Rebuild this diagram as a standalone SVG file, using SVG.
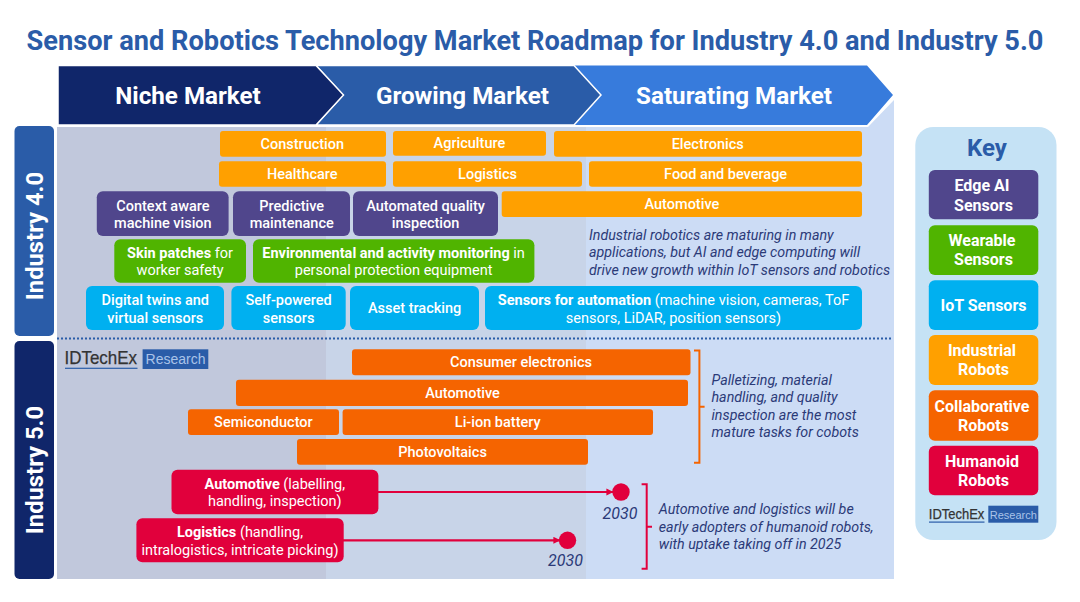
<svg xmlns="http://www.w3.org/2000/svg" width="1080" height="602" viewBox="0 0 1080 602">
<style>
text{font-family:Roboto,"Liberation Sans",sans-serif}
.t{font-size:14.5px;font-weight:500;fill:#fff;text-anchor:middle}
.t tspan.b{font-weight:700}
.t tspan.r{font-weight:400}
.h{font-size:24.2px;font-weight:700;fill:#fff;text-anchor:middle}
.v{font-size:23.8px;font-weight:700;fill:#fff;text-anchor:middle}
.k{font-size:16px;font-weight:700;fill:#fff;text-anchor:middle}
.n{font-size:14.25px;font-style:italic;fill:#2b3a78}
.o{fill:#ffa000}.p{fill:#50468c}.g{fill:#50b400}.c{fill:#00b0f0}.d{fill:#f56400}.m{fill:#e1003c}
.logo{font-family:"Liberation Sans",sans-serif;fill:#333;stroke:#333;stroke-width:.25}
.res{font-family:"Liberation Sans",sans-serif;fill:#a9c3e8;text-anchor:middle}
.ln{fill:none;stroke-width:2}
</style>
<defs><marker id="ah" markerWidth="3.2" markerHeight="3.2" refX="3" refY="1.6" orient="auto"><path d="M0 0L3.2 1.600L0 3.200Z" fill="#e1003c"/></marker></defs>
<rect width="1080" height="602" fill="#fff"/>
<text id="title" x="535" y="50" text-anchor="middle" font-size="27.2" font-weight="700" fill="#2a5ca8">Sensor and Robotics Technology Market Roadmap for Industry 4.0 and Industry 5.0</text>
<g id="background">
<path d="M57 127H868L894 100V579H57Z" fill="#ccdcf5"/>
<rect x="57" y="127" width="269" height="452" fill="#c1c8dc"/>
<rect x="326" y="127" width="260" height="452" fill="#c8d4e8"/>
</g>
<g id="stage-saturating"><path d="M574 65.500H867L893 95L867 125H574L601 95Z" fill="#377bdc"/><text class="h" x="734" y="103.500">Saturating Market</text></g>
<g id="stage-growing"><path d="M316 65.500H574L601 95L574 125H316L343 95Z" fill="#2a5ca8" stroke="#fff" stroke-width="1.500"/><text class="h" x="462.500" y="103.500">Growing Market</text></g>
<g id="stage-niche"><path d="M58 65.500H316L343.500 95L316 125H58Z" fill="#10266a" stroke="#fff" stroke-width="1.500"/><text class="h" x="188" y="103.500">Niche Market</text></g>
<g id="industry-40"><rect x="14.500" y="126" width="39.500" height="210" rx="5" fill="#2a5ca8"/><text class="v" transform="translate(42.500 236) rotate(-90)">Industry 4.0</text></g>
<g id="industry-50"><rect x="14.500" y="341" width="39.500" height="238" rx="5" fill="#10266a"/><text class="v" transform="translate(42.500 470) rotate(-90)">Industry 5.0</text></g>
<line id="divider" x1="57" y1="338.500" x2="893" y2="338.500" stroke="#2a5ca8" stroke-width="2" stroke-dasharray="2 2"/>

<g id="construction"><rect class="o" x="220" y="131" width="166" height="25.700" rx="3"/><text class="t" x="302.300" y="149">Construction</text></g>
<g id="agriculture"><rect class="o" x="393" y="131" width="153" height="24.700" rx="3"/><text class="t" x="469.400" y="148">Agriculture</text></g>
<g id="electronics"><rect class="o" x="554" y="131" width="308" height="25.700" rx="3"/><text class="t" x="707.700" y="149">Electronics</text></g>
<g id="healthcare"><rect class="o" x="219" y="161.300" width="167" height="25.400" rx="3"/><text class="t" x="302.300" y="179">Healthcare</text></g>
<g id="logistics-40"><rect class="o" x="393" y="161.300" width="189" height="25.400" rx="3"/><text class="t" x="487.600" y="179">Logistics</text></g>
<g id="food"><rect class="o" x="589" y="161.300" width="273" height="25.400" rx="3"/><text class="t" x="725.600" y="179">Food and beverage</text></g>
<g id="automotive-40"><rect class="o" x="501.700" y="191.300" width="360.300" height="25.700" rx="3"/><text class="t" x="681.900" y="209">Automotive</text></g>

<g id="context"><rect class="p" x="96.800" y="191.300" width="131.800" height="44.700" rx="6"/><text class="t" x="162.900" y="210.700">Context aware<tspan x="162.900" y="228">machine vision</tspan></text></g>
<g id="predictive"><rect class="p" x="233" y="191.300" width="117" height="44.700" rx="6"/><text class="t" x="291.700" y="210.700">Predictive<tspan x="291.700" y="228">maintenance</tspan></text></g>
<g id="quality"><rect class="p" x="353" y="191.300" width="145" height="44.700" rx="6"/><text class="t" x="425.600" y="210.700">Automated quality<tspan x="425.600" y="228">inspection</tspan></text></g>

<g id="skin"><rect class="g" x="114.300" y="239.300" width="131.700" height="43.400" rx="6"/><text class="t" x="180" y="258"><tspan class="b">Skin patches</tspan><tspan class="r"> for</tspan><tspan class="r" x="180" y="275.300">worker safety</tspan></text></g>
<g id="environmental"><rect class="g" x="253" y="239.300" width="281.400" height="43.400" rx="6"/><text class="t" x="393.600" y="258"><tspan class="b">Environmental and activity monitoring</tspan><tspan class="r"> in</tspan><tspan class="r" x="393.600" y="275.300">personal protection equipment</tspan></text></g>

<g id="twins"><rect class="c" x="86" y="286" width="138" height="44" rx="6"/><text class="t" x="155.300" y="305.300">Digital twins and<tspan x="155.300" y="322.700">virtual sensors</tspan></text></g>
<g id="self-powered"><rect class="c" x="231.400" y="286" width="114.300" height="44" rx="6"/><text class="t" x="288.600" y="305.300">Self-powered<tspan x="288.600" y="322.700">sensors</tspan></text></g>
<g id="asset"><rect class="c" x="350" y="286" width="129" height="44" rx="6"/><text class="t" x="414.600" y="313">Asset tracking</text></g>
<g id="automation"><rect class="c" x="485" y="286" width="377" height="44" rx="6"/><text class="t" x="673.500" y="305.300"><tspan class="b">Sensors for automation</tspan><tspan class="r"> (machine vision, cameras, ToF</tspan><tspan class="r" x="673.500" y="322.700">sensors, LiDAR, position sensors)</tspan></text></g>

<text class="n" x="589" y="240">Industrial robotics are maturing in many<tspan x="589" y="257.300">applications, but AI and edge computing will</tspan><tspan x="589" y="274.700">drive new growth within IoT sensors and robotics</tspan></text>

<g id="logo-main"><text class="logo" x="64.500" y="364" font-size="18.500" textLength="72.500" lengthAdjust="spacingAndGlyphs">IDTechEx</text><rect x="65" y="367.700" width="72.500" height="1.200" fill="#2a5ca8"/><rect x="142.600" y="349.300" width="65.700" height="19.700" fill="#2a5ca8"/><text class="res" x="175.500" y="364" font-size="14">Research</text></g>

<g id="consumer"><rect class="d" x="352" y="349.300" width="338.500" height="26" rx="3"/><text class="t" x="521" y="367.300">Consumer electronics</text></g>
<g id="automotive-50"><rect class="d" x="236" y="379.700" width="452" height="26.300" rx="3"/><text class="t" x="462.500" y="397.700">Automotive</text></g>
<g id="semiconductor"><rect class="d" x="188" y="409.300" width="151" height="25.700" rx="3"/><text class="t" x="263.400" y="427.300">Semiconductor</text></g>
<g id="li-ion"><rect class="d" x="342.600" y="409.300" width="310.400" height="25.700" rx="3"/><text class="t" x="497.700" y="427.300">Li-ion battery</text></g>
<g id="photovoltaics"><rect class="d" x="297" y="439" width="291" height="25.700" rx="3"/><text class="t" x="442.500" y="457">Photovoltaics</text></g>
<g id="automotive-h"><rect class="m" x="171.500" y="469.700" width="206.900" height="44.600" rx="6"/><text class="t" x="274.800" y="489"><tspan class="b">Automotive</tspan><tspan class="r"> (labelling,</tspan><tspan class="r" x="274.800" y="506.300">handling, inspection)</tspan></text></g>
<g id="logistics-h"><rect class="m" x="136.400" y="518.300" width="207.300" height="44" rx="6"/><text class="t" x="240" y="537.300"><tspan class="b">Logistics</tspan><tspan class="r"> (handling,</tspan><tspan class="r" x="240" y="554.700">intralogistics, intricate picking)</tspan></text></g>

<g id="connectors">
<line x1="378" y1="492" x2="613" y2="492" stroke="#e1003c" stroke-width="2.200" marker-end="url(#ah)"/>
<line x1="343" y1="540.300" x2="560" y2="540.300" stroke="#e1003c" stroke-width="2.200" marker-end="url(#ah)"/>
<path class="ln" d="M694 350.500H699.400V462.800H694M699.400 406.700H704.600" stroke="#f56400" stroke-width="1.500"/>
<path class="ln" d="M641.600 484.300H646.700V568.700H641.600M646.700 526.700H652" stroke="#e1003c"/>
</g>
<g id="milestone-a"><circle class="m" cx="621" cy="492" r="8.700"/><text class="n" x="620" y="519" text-anchor="middle" style="font-size:16px">2030</text></g>
<g id="milestone-b"><circle class="m" cx="567.500" cy="540.300" r="8.700"/><text class="n" x="565.500" y="566" text-anchor="middle" style="font-size:16px">2030</text></g>

<text class="n" x="711.500" y="385">Palletizing, material<tspan x="711.500" y="402.300">handling, and quality</tspan><tspan x="711.500" y="419.700">inspection are the most</tspan><tspan x="711.500" y="436.700">mature tasks for cobots</tspan></text>
<text class="n" x="658.800" y="514.300">Automotive and logistics will be<tspan x="658.800" y="531.500">early adopters of humanoid robots,</tspan><tspan x="658.800" y="549">with uptake taking off in 2025</tspan></text>

<g id="key">
<rect x="915.300" y="127" width="141.200" height="413" rx="18" fill="#c5e2f5"/>
<text x="987" y="155.500" text-anchor="middle" font-size="24" font-weight="700" fill="#2a5ca8">Key</text>
</g>
<g id="key-edge"><rect class="p" x="928.800" y="170" width="109.500" height="49.300" rx="6"/><text class="k" x="982" y="191">Edge AI<tspan x="983.500" y="210.500">Sensors</tspan></text></g>
<g id="key-wearable"><rect class="g" x="928.800" y="225.300" width="109.500" height="49.700" rx="6"/><text class="k" x="982" y="245.500">Wearable<tspan x="983.500" y="265">Sensors</tspan></text></g>
<g id="key-iot"><rect class="c" x="928.800" y="280.300" width="109.500" height="49.700" rx="6"/><text class="k" x="983.500" y="310.500">IoT Sensors</text></g>
<g id="key-industrial"><rect class="o" x="928.800" y="335" width="109.500" height="50" rx="6"/><text class="k" x="982" y="356">Industrial<tspan x="983.500" y="375">Robots</tspan></text></g>
<g id="key-collab"><rect class="d" x="928.800" y="390.300" width="109.500" height="50.400" rx="6"/><text class="k" x="982" y="411.500">Collaborative<tspan x="983.500" y="430.500">Robots</tspan></text></g>
<g id="key-humanoid"><rect class="m" x="928.800" y="445.700" width="109.500" height="49.600" rx="6"/><text class="k" x="982" y="466.500">Humanoid<tspan x="983.500" y="485.500">Robots</tspan></text></g>
<g id="logo-key"><text class="logo" x="928.800" y="519" font-size="14" textLength="55.500" lengthAdjust="spacingAndGlyphs">IDTechEx</text><rect x="929" y="521.500" width="55.500" height="1.200" fill="#2a5ca8"/><rect x="988.300" y="505.700" width="50" height="17" fill="#2a5ca8"/><text class="res" x="1013.300" y="518.500" font-size="11">Research</text></g>
</svg>
